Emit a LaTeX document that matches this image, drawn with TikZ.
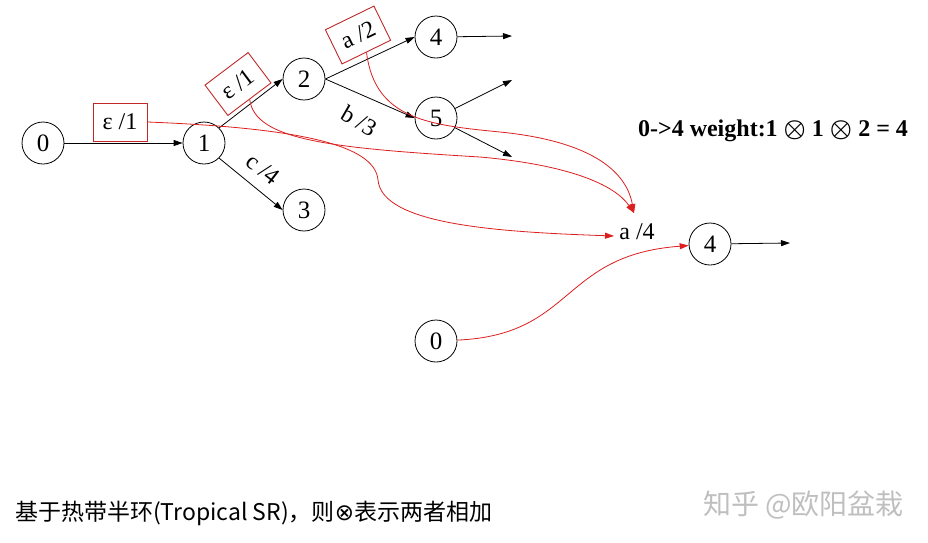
\documentclass[tikz,border=0pt]{standalone}
\usepackage{fontspec}
\setmainfont{Liberation Serif}
\newfontfamily\cjk{Noto Sans CJK SC}
\newfontfamily\dejavu{DejaVu Sans}
\usetikzlibrary{arrows.meta}
\definecolor{boxred}{RGB}{192,40,40}
\definecolor{curvered}{RGB}{220,30,30}
\begin{document}
\begin{tikzpicture}[x=1pt,y=-1pt,
  st/.style={circle,draw,line width=0.8pt,minimum size=42pt,inner sep=0pt,font=\fontsize{25}{25}\selectfont},
  edge/.style={draw,line width=0.8pt,-{Triangle[length=9pt,width=6pt]}},
  redc/.style={draw=curvered,line width=0.8pt,-{Triangle[length=9pt,width=6pt]},curvered},
  wbox/.style={draw=boxred,line width=0.9pt,minimum width=54pt,minimum height=38pt,inner sep=0pt,font=\fontsize{24}{24}\selectfont},
  lab/.style={font=\fontsize{24}{24}\selectfont,inner sep=0pt}]
\useasboundingbox (0,0) rectangle (928,542);
% states
\node[st] (s0) at (43,143) {0};
\node[st] (s1) at (204,143) {1};
\node[st] (s2) at (304,79) {2};
\node[st] (s3) at (304,210) {3};
\node[st] (s4) at (436,37) {4};
\node[st] (s5) at (436,118) {5};
\node[st] (t4) at (710,244) {4};
\node[st] (t0) at (436,341) {0};
% free ends
\coordinate (e4) at (512,36);
\coordinate (e5a) at (512,80);
\coordinate (e5b) at (512,157);
\coordinate (et4) at (790,243);
\coordinate (hit) at (634,213);
\coordinate (hit2) at (614,236);
% black edges
\path[edge] (s0) -- (s1);
\path[edge] (s1.north east) -- (s2.west);
\path[edge] (s1.south east) -- (s3.west);
\path[edge] (s2.east) -- (s4.west);
\path[edge] (s2.east) -- (s5.west);
\path[edge] (s4) -- (e4);
\path[edge] (s5) -- (e5a);
\path[edge] (s5) -- (e5b);
\path[edge] (t4) -- (et4);
% weight boxes and labels
\node[wbox] (b01) at (120,122) {ε /1};
\node[wbox,rotate=37] (b12) at (238,84) {ε /1};
\node[wbox,rotate=26] (b24) at (358,35) {a /2};
\node[lab,rotate=-30] (l25) at (359,121) {b /3};
\node[lab,rotate=-38] (l13) at (263,169) {c /4};
\node[lab] (la4) at (637,232) {a /4};
% red curves
\path[redc] (b24.south) .. controls (375,120) and (430,125) .. (500,132) .. controls (580,140) and (625,165) .. (hit);
\path[redc] (b12.south) .. controls (255,140) and (330,148) .. (480,157) .. controls (570,165) and (615,185) .. (hit);
\path[redc] (b01.east) .. controls (300,128) and (375,145) .. (378,180) .. controls (382,225) and (500,232) .. (hit2);
\path[redc] (t0) .. controls (575,335) and (560,255) .. (t4);
% texts
\node[font=\fontsize{24}{24}\selectfont\bfseries,inner sep=0pt] (w) at (773,131) {0->4 weight:1 {\boldmath$\otimes$} 1 {\boldmath$\otimes$} 2 = 4};
\node[anchor=west,font=\cjk\fontsize{23}{23}\selectfont,inner sep=0pt] (cap) at (15,513) {基于热带半环(Tropical SR)，则{\dejavu ⊗}表示两者相加};
\node[anchor=west,font=\cjk\fontsize{28}{28}\selectfont,inner sep=0pt,text=black!25] (wm) at (703,505) {知乎 @欧阳盆栽};
\end{tikzpicture}
\end{document}
